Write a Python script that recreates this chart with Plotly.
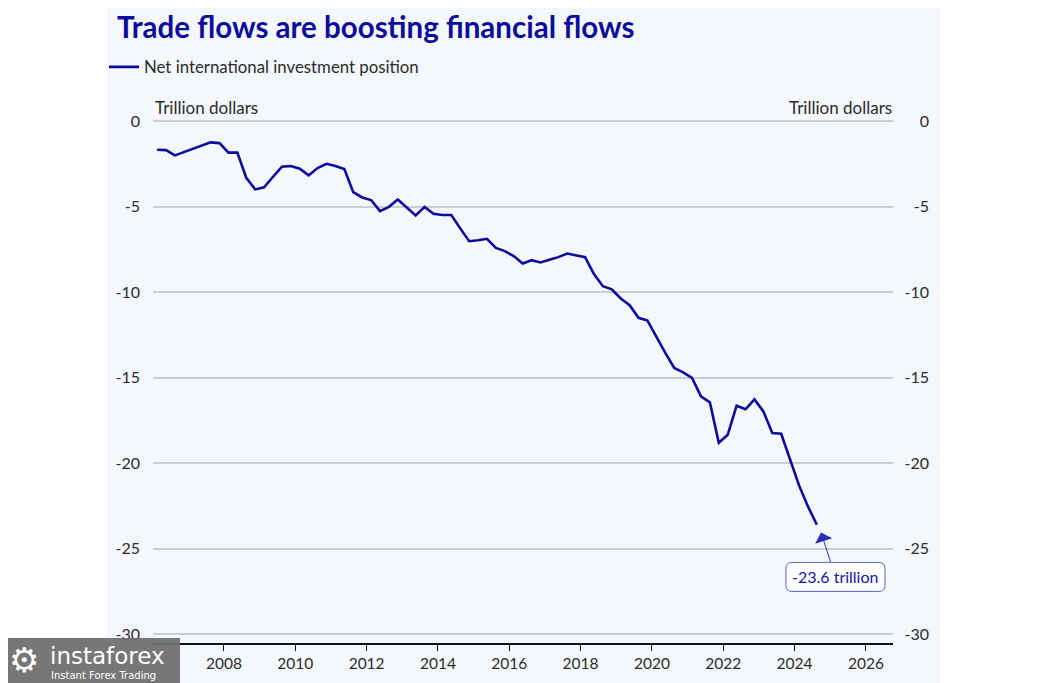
import plotly.graph_objects as go

# Quarterly observations, 2006 Q1 .. 2024 Q3 (plotted at mid-quarter)
start_year = 2006
niip = [
    -1.68, -1.70, -2.01, -1.82, -1.64, -1.43, -1.25, -1.29,
    -1.85, -1.85, -3.32, -4.00, -3.88, -3.26, -2.67, -2.63,
    -2.79, -3.18, -2.75, -2.50, -2.63, -2.81, -4.16, -4.47,
    -4.62, -5.27, -5.02, -4.59, -5.05, -5.52, -5.02, -5.43,
    -5.50, -5.50, -6.28, -7.03, -6.97, -6.89, -7.42, -7.61,
    -7.90, -8.33, -8.14, -8.27, -8.12, -7.96, -7.75, -7.85,
    -7.96, -8.95, -9.66, -9.84, -10.38, -10.77, -11.51, -11.67,
    -12.63, -13.56, -14.44, -14.70, -15.03, -16.10, -16.45, -18.82,
    -18.35, -16.65, -16.86, -16.28, -16.98, -18.25, -18.29, -19.85,
    -21.31, -22.54, -23.61,
]
x_vals = [start_year + 0.125 + 0.25 * i for i in range(len(niip))]

year_ticks = list(range(2008, 2027, 2))
y_ticks = [0, -5, -10, -15, -20, -25, -30]
last_label = "-23.6 trillion"

NAVY = "#0b0c9c"
TEXT = "#2b2b2b"
GRID = "#c9ccd2"
PANEL = "#f4f8fd"

# the page body has an 8px margin; layout is computed in reference pixels
OFF = 8
W, H = 1044 - OFF, 683 - OFF
PLOT_L, PLOT_R = 153, 893        # reference px of x-axis span
PAPER_R = 936                    # paper extends further right for right-hand labels
PLOT_T, PLOT_B = 100, 643
ML = PLOT_L - OFF
MR = W - (PAPER_R - OFF)
MT = PLOT_T - OFF
MB = H - (PLOT_B - OFF)
PX_PER_UNIT = 17.08
Y_TOP = (121 - PLOT_T) / PX_PER_UNIT
Y_BOT = -30 - (PLOT_B - 634) / PX_PER_UNIT
X_RANGE = [2006.01, 2026.76]

pw = PAPER_R - PLOT_L
ph = PLOT_B - PLOT_T


def px_x(px):
    return (px - PLOT_L) / pw


def px_y(py):
    return (PLOT_B - py) / ph


fig = go.Figure()
fig.add_trace(go.Scatter(
    x=x_vals, y=niip, mode="lines", name="Net international investment position",
    line=dict(color=NAVY, width=2.6), hoverinfo="x+y",
))
# invisible trace so the right-hand axis is drawn
fig.add_trace(go.Scatter(
    x=x_vals, y=niip, mode="lines", yaxis="y2", showlegend=False,
    line=dict(color="rgba(0,0,0,0)", width=0), hoverinfo="skip",
))

shapes = [
    # light blue panel
    dict(type="rect", xref="paper", yref="paper", layer="below",
         x0=px_x(107), x1=px_x(940), y0=px_y(690), y1=px_y(0),
         fillcolor=PANEL, line=dict(width=0)),
    # rounded box for the last-value label
    dict(type="path", xref="x", yref="y", xsizemode="pixel", ysizemode="pixel",
         xanchor=2024.74, yanchor=-24.06, layer="above",
         path="M -29,-30 L 58,-30 Q 64,-30 64,-36 L 64,-53 Q 64,-59 58,-59 "
              "L -29,-59 Q -35,-59 -35,-53 L -35,-36 Q -35,-30 -29,-30 Z",
         fillcolor="white", line=dict(color="#5b60d2", width=1)),
    # watermark block
    dict(type="rect", xref="paper", yref="paper", layer="above",
         x0=px_x(0), x1=px_x(180), y0=px_y(690), y1=px_y(638),
         fillcolor="rgba(112,112,112,0.95)", line=dict(width=0)),
]

annotations = [
    dict(text="Trillion dollars", xref="paper", yref="y", x=0, y=0,
         xanchor="left", yanchor="bottom", yshift=1, showarrow=False,
         font=dict(family="Lato", size=17, color=TEXT)),
    dict(text="Trillion dollars", xref="paper", yref="y", x=px_x(894), y=0,
         xanchor="right", yanchor="bottom", yshift=1, showarrow=False,
         font=dict(family="Lato", size=17, color=TEXT)),
    dict(text=last_label, x=2024.74, y=-24.06, xref="x", yref="y",
         ax=14.5, ay=44.5, showarrow=True, arrowhead=1, arrowsize=3,
         arrowwidth=1, arrowcolor="#2a30b4", standoff=0,
         font=dict(family="Lato", size=16, color="#1416a6"),
         bgcolor="rgba(0,0,0,0)", borderpad=5),
    dict(text="⚙", xref="paper", yref="paper", x=px_x(24), y=px_y(660),
         xanchor="center", yanchor="middle", showarrow=False,
         font=dict(family="DejaVu Sans", size=34, color="white")),
    dict(text="instaforex", xref="paper", yref="paper", x=px_x(48), y=px_y(656),
         xanchor="left", yanchor="middle", showarrow=False,
         font=dict(family="DejaVu Sans", size=23, color="white")),
    dict(text="Instant Forex Trading", xref="paper", yref="paper", x=px_x(49), y=px_y(675),
         xanchor="left", yanchor="middle", showarrow=False,
         font=dict(family="DejaVu Sans", size=10, color="white")),
]

fig.update_layout(
    width=W, height=H,
    margin=dict(l=ML, r=MR, t=MT, b=MB, pad=0),
    paper_bgcolor="white", plot_bgcolor="rgba(0,0,0,0)",
    font=dict(family="Lato", size=15, color=TEXT),
    title=dict(text="<b>Trade flows are boosting financial flows</b>",
               xref="container", yref="container", x=(117 - OFF) / W, y=1 - (28 - OFF) / H,
               xanchor="left", yanchor="middle",
               font=dict(family="Lato", size=29.5, color=NAVY)),
    showlegend=True,
    legend=dict(orientation="h", x=px_x(104), y=px_y(67), xanchor="left", yanchor="middle",
                bgcolor="rgba(0,0,0,0)", font=dict(family="Lato", size=16.8, color=TEXT)),
    xaxis=dict(range=X_RANGE, domain=[0, (PLOT_R - PLOT_L) / pw],
               tickvals=year_ticks, ticktext=[str(v) for v in year_ticks],
               showgrid=False, zeroline=False, showline=True, linecolor="#111",
               linewidth=1.6, ticks="outside", ticklen=6, tickwidth=1.2, tickcolor="#111",
               tickfont=dict(family="Lato", size=15.5, color=TEXT)),
    yaxis=dict(range=[Y_BOT, Y_TOP], tickvals=y_ticks, ticktext=[str(v) for v in y_ticks],
               showgrid=True, gridcolor=GRID, gridwidth=1.5, zeroline=False,
               ticks="", ticklabelstandoff=12,
               tickfont=dict(family="Lato", size=16, color=TEXT)),
    yaxis2=dict(range=[Y_BOT, Y_TOP], tickvals=y_ticks, ticktext=[str(v) for v in y_ticks],
                overlaying="y", side="right", anchor="free", position=1,
                ticklabelposition="inside", showgrid=False, zeroline=False, showline=False,
                ticks="", ticklabelstandoff=4,
                tickfont=dict(family="Lato", size=16, color=TEXT)),
    shapes=shapes,
    annotations=annotations,
)

fig.write_html("out.html")
